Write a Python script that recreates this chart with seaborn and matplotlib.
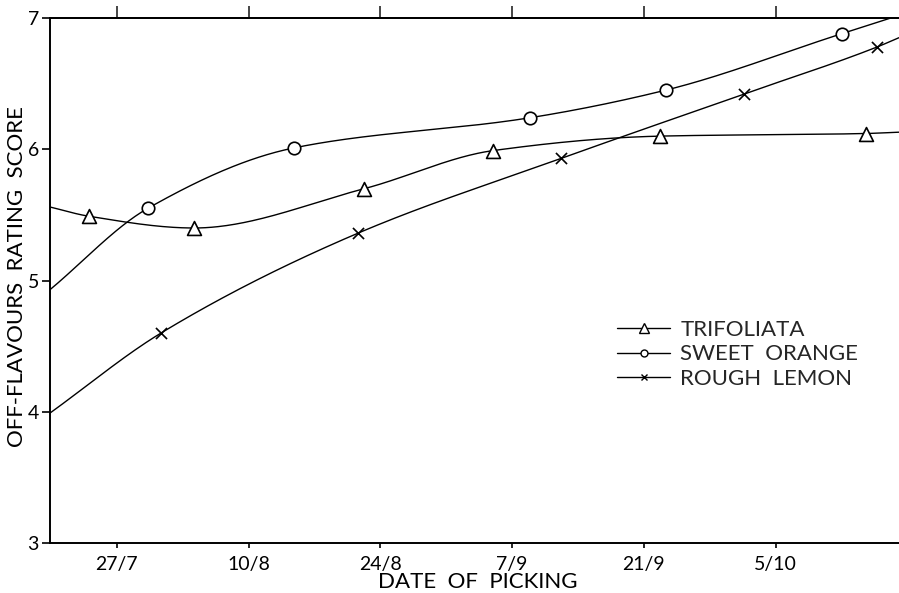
import numpy as np
import pandas as pd
import matplotlib
matplotlib.use("Agg")
import matplotlib.pyplot as plt
from matplotlib.lines import Line2D
import seaborn as sns

# ---- data (x = days after 27 July) ----
tick_days = [0, 14, 28, 42, 56, 70]
tick_labels = ["27/7", "10/8", "24/8", "7/9", "21/9", "5/10"]

trif_x = [-3.0, 8.2, 26.3, 40.0, 57.7, 79.6]
trif_y = [5.49, 5.40, 5.70, 5.99, 6.10, 6.12]
trif_ends = [5.56, 6.13]

sweet_x = [3.3, 18.8, 43.9, 58.3, 77.0]
sweet_y = [5.55, 6.01, 6.24, 6.45, 6.88]
sweet_ends = [4.93, 7.02]

rough_x = [4.7, 25.6, 47.2, 66.6, 80.8]
rough_y = [4.60, 5.36, 5.93, 6.42, 6.78]
rough_ends = [3.99, 6.85]

x_range = [-7.1, 83.1]
series_names = ["TRIFOLIATA", "SWEET  ORANGE", "ROUGH  LEMON"]


def pchip(x, y, xs):
    x = np.asarray(x, float); y = np.asarray(y, float)
    h = np.diff(x); d = np.diff(y) / h
    n = len(x); m = np.zeros(n)
    m[0] = d[0]; m[-1] = d[-1]
    for k in range(1, n - 1):
        if d[k - 1] * d[k] <= 0:
            m[k] = 0.0
        else:
            w1 = 2 * h[k] + h[k - 1]; w2 = h[k] + 2 * h[k - 1]
            m[k] = (w1 + w2) / (w1 / d[k - 1] + w2 / d[k])
    idx = np.clip(np.searchsorted(x, xs) - 1, 0, n - 2)
    t = (xs - x[idx]) / h[idx]
    h00 = 2 * t**3 - 3 * t**2 + 1; h10 = t**3 - 2 * t**2 + t
    h01 = -2 * t**3 + 3 * t**2; h11 = t**3 - t**2
    return h00 * y[idx] + h10 * h[idx] * m[idx] + h01 * y[idx + 1] + h11 * h[idx] * m[idx + 1]


sns.set_theme(style="ticks")
plt.rcParams["font.family"] = ["Lato", "DejaVu Sans"]

fig = plt.figure(figsize=(8.99, 5.93), dpi=100)
ax = fig.add_axes([50 / 899, 50 / 593, 849 / 899, 525 / 593])

xs = np.linspace(x_range[0], x_range[1], 400)
series = [
    (trif_x, trif_y, trif_ends, "^", 10),
    (sweet_x, sweet_y, sweet_ends, "o", 9),
    (rough_x, rough_y, rough_ends, "x", 8),
]
for px, py, ends, mk, ms in series:
    kx = [x_range[0]] + list(px) + [x_range[1]]
    ky = [ends[0]] + list(py) + [ends[1]]
    ys = pchip(kx, ky, xs)
    sns.lineplot(x=xs, y=ys, ax=ax, color="black", lw=1.0, sort=False)
    if mk == "x":
        sns.scatterplot(x=px, y=py, ax=ax, marker="x", s=ms**2, color="black",
                        linewidth=1.2, zorder=3)
    else:
        sns.scatterplot(x=px, y=py, ax=ax, marker=mk, s=ms**2, facecolor="white",
                        edgecolor="black", linewidth=1.2, zorder=3)

ax.set_xlim(x_range)
ax.set_ylim(3, 7)
ax.set_xticks(tick_days)
ax.set_xticklabels(tick_labels)
ax.set_yticks([3, 4, 5, 6, 7])
ax.set_yticklabels(["3", "4", "5", "6", "7"])
ax.tick_params(axis="x", direction="out", length=3.5, width=1.2, pad=6, labelsize=14, colors="black")
ax.tick_params(axis="y", direction="out", length=6, width=1.2, pad=2, labelsize=14, colors="black")
for s in ["left", "bottom", "top"]:
    ax.spines[s].set_linewidth(1.4)
    ax.spines[s].set_color("black")
ax.spines["right"].set_visible(False)

sec = ax.secondary_xaxis("top")
sec.set_xticks(tick_days)
sec.tick_params(direction="out", length=9, width=1.2, labeltop=False)
sec.spines["top"].set_linewidth(1.4)

ax.set_xlabel("DATE  OF  PICKING", fontsize=16, color="black")
ax.xaxis.set_label_coords(0.504, -0.056)
ax.set_ylabel("OFF-FLAVOURS  RATING  SCORE", fontsize=16, color="black")
ax.yaxis.set_label_coords(-0.027, 0.507)

handles = [
    Line2D([], [], color="black", lw=1.0, marker="^", ms=7, mfc="white", mec="black"),
    Line2D([], [], color="black", lw=1.0, marker="o", ms=5, mfc="white", mec="black"),
    Line2D([], [], color="black", lw=1.0, marker="x", ms=5, mec="black"),
]
leg = ax.legend(handles, series_names, loc="upper left",
                bbox_to_anchor=(617 / 899, 1 - 320 / 593), bbox_transform=fig.transFigure,
                frameon=False, fontsize=16, handlelength=2.4, handletextpad=0.45,
                labelspacing=0.2, borderpad=0, borderaxespad=0, numpoints=1)

fig.savefig("out.png", dpi=100)
